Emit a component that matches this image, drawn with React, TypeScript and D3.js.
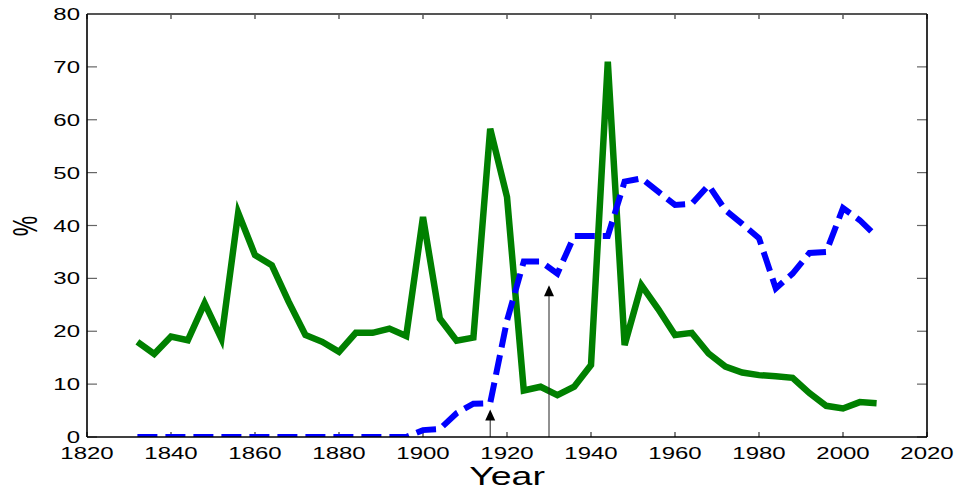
import * as React from 'react';
import * as d3 from 'd3';

const years: number[] = [
	1832, 1836, 1840, 1844, 1848, 1852, 1856, 1860, 1864, 1868, 1872, 1876, 1880, 1884, 1888,
	1892, 1896, 1900, 1904, 1908, 1912, 1916, 1920, 1924, 1928, 1932, 1936, 1940, 1944, 1948,
	1952, 1956, 1960, 1964, 1968, 1972, 1976, 1980, 1984, 1988, 1992, 1996, 2000, 2004, 2008
];

const greenSeries: number[] = [
	18.0, 15.7, 19.0, 18.3, 25.3, 18.6, 42.4, 34.4, 32.5, 25.6, 19.3, 18.0, 16.1, 19.7, 19.7,
	20.5, 19.1, 41.6, 22.4, 18.2, 18.8, 58.3, 45.4, 8.8, 9.5, 7.9, 9.5, 13.6, 71.0, 17.4,
	28.7, 24.2, 19.3, 19.7, 15.8, 13.3, 12.2, 11.7, 11.5, 11.2, 8.3, 5.9, 5.4, 6.6, 6.4
];

const blueSeries: number[] = [
	0, 0, 0, 0, 0, 0, 0, 0, 0, 0, 0, 0, 0, 0, 0,
	0, 0, 1.3, 1.5, 4.5, 6.3, 6.4, 22.0, 33.2, 33.2, 30.9, 38.0, 38.0, 38.0, 48.3,
	48.9, 46.4, 43.9, 44.1, 47.6, 42.9, 40.3, 37.6, 28.1, 30.9, 34.8, 35.0, 43.3, 41.0, 37.9
];

// arrow annotations: [year, tip value]
const arrows: [number, number][] = [
	[1916, 5.2],
	[1930, 28.7]
];

const xTicks: number[] = [1820, 1840, 1860, 1880, 1900, 1920, 1940, 1960, 1980, 2000, 2020];
const yTicks: number[] = [0, 10, 20, 30, 40, 50, 60, 70, 80];

const W = 956;
const H = 490;
const left = 87;
const right = 927;
const top = 14;
const bottom = 437;
const font = '"Liberation Sans", Arial, sans-serif';
const stretch = 1.5;

export default function App() {
	const x = d3.scaleLinear().domain([1820, 2020]).range([left, right]);
	const y = d3.scaleLinear().domain([0, 80]).range([bottom, top]);

	const line = d3
		.line<number>()
		.x((_d, i) => x(years[i]))
		.y((d) => y(d));

	return (
		<svg width={W} height={H} style={{ position: 'absolute', left: 0, top: 0, background: '#fff' }}>
			<defs>
				<clipPath id="plot">
					<rect x={left} y={top} width={right - left} height={bottom - top} />
				</clipPath>
			</defs>

			{/* ticks */}
			{yTicks.map((t) => (
				<g key={'y' + t} stroke="#666" strokeWidth={1.2}>
					<line x1={left} x2={left + 10} y1={y(t)} y2={y(t)} />
					<line x1={right} x2={right - 10} y1={y(t)} y2={y(t)} />
				</g>
			))}
			{xTicks.map((t) => (
				<g key={'x' + t} stroke="#333" strokeWidth={1.2}>
					<line x1={x(t)} x2={x(t)} y1={bottom} y2={bottom - 5} />
					<line x1={x(t)} x2={x(t)} y1={top} y2={top + 5} />
				</g>
			))}

			<g clipPath="url(#plot)" fill="none" strokeLinejoin="miter">
				<path d={line(greenSeries) || ''} stroke="#008000" strokeWidth={6.5} />
				<path d={line(blueSeries) || ''} stroke="#0000ff" strokeWidth={6} strokeDasharray="20,8" />
			</g>

			{/* arrows */}
			{arrows.map(([yr, v]) => (
				<g key={'a' + yr}>
					<line x1={x(yr)} x2={x(yr)} y1={bottom} y2={y(v) + 8} stroke="#222" strokeWidth={1} />
					<path
						d={`M${x(yr)},${y(v)} L${x(yr) - 5},${y(v) + 11} L${x(yr) + 5},${y(v) + 11} Z`}
						fill="#000"
					/>
				</g>
			))}

			{/* axes box */}
			<line x1={left} x2={right} y1={top} y2={top} stroke="#555" strokeWidth={1.8} />
			<line x1={left} x2={left} y1={top} y2={bottom} stroke="#000" strokeWidth={1.6} />
			<line x1={right} x2={right} y1={top} y2={bottom} stroke="#000" strokeWidth={1.6} />
			<line x1={left} x2={right} y1={bottom} y2={bottom} stroke="#000" strokeWidth={1.6} />

			{/* tick labels */}
			{yTicks.map((t) => (
				<text
					key={'yl' + t}
					transform={`translate(80,${y(t) + 6}) scale(${stretch},1)`}
					textAnchor="end"
					fontFamily={font}
					fontSize={16}
					fill="#000"
				>
					{t}
				</text>
			))}
			{xTicks.map((t) => (
				<text
					key={'xl' + t}
					transform={`translate(${x(t)},459) scale(${stretch},1)`}
					textAnchor="middle"
					fontFamily={font}
					fontSize={16}
					fill="#000"
				>
					{t}
				</text>
			))}

			<text
				transform={`translate(${(left + right) / 2},485) scale(${stretch},1)`}
				textAnchor="middle"
				fontFamily={font}
				fontSize={25}
				fill="#000"
			>
				Year
			</text>
			<text
				transform={`translate(37,226) scale(${stretch},1) rotate(-90)`}
				textAnchor="middle"
				fontFamily={font}
				fontSize={23}
				fill="#000"
			>
				%
			</text>
		</svg>
	);
}
